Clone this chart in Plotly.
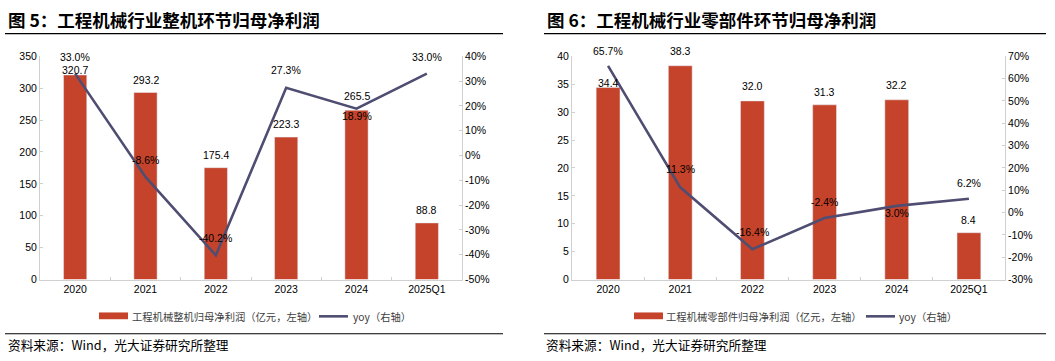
import plotly.graph_objects as go

# ---------------- data ----------------
categories = ["2020", "2021", "2022", "2023", "2024", "2025Q1"]

profit_machine = [320.7, 293.2, 175.4, 223.3, 265.5, 88.8]      # 亿元
yoy_machine = [33.0, -8.6, -40.2, 27.3, 18.9, 33.0]              # %

profit_parts = [34.4, 38.3, 32.0, 31.3, 32.2, 8.4]               # 亿元
yoy_parts = [65.7, 11.3, -16.4, -2.4, 3.0, 6.2]                   # %

left_ticks = [0, 50, 100, 150, 200, 250, 300, 350]
left_yoy_ticks = [-50, -40, -30, -20, -10, 0, 10, 20, 30, 40]
right_ticks = [0, 5, 10, 15, 20, 25, 30, 35, 40]
right_yoy_ticks = [-30, -20, -10, 0, 10, 20, 30, 40, 50, 60, 70]

title_left = "图 5：工程机械行业整机环节归母净利润"
title_right = "图 6：工程机械行业零部件环节归母净利润"
legend_bar_left = "工程机械整机归母净利润（亿元，左轴）"
legend_bar_right = "工程机械零部件归母净利润（亿元，左轴）"
legend_line = "yoy（右轴）"
source_text = "资料来源：Wind，光大证券研究所整理"

# ---------------- style ----------------
W, H = 1055, 361
BAR = "#C5432A"
LINE = "#4F4E72"
AXIS = "#D0D0D0"
NUM_FONT = "Liberation Sans, Arial, Noto Sans CJK SC"
CJK_FONT = "Noto Sans CJK SC, Liberation Sans"
TICK_SIZE = 10.5

bar_shift_left = [5, 13, 13, 13, 14, 13]
yoy_shift_left = [17, 17, 17, 18, -7, 17]
bar_shift_right = [5, 15, 15, 13, 15, 13]
yoy_shift_right = [15, 18, 17, 16, -7, 16]

def px(x):
    return x / W

def py(y):
    return 1 - y / H

ydom = [py(283), py(52)]
xrange_ = [-0.5, len(categories) - 0.5]

fig = go.Figure()

fig.add_trace(go.Bar(x=categories, y=profit_machine, marker_color=BAR, width=0.33,
                     xaxis="x", yaxis="y", name=legend_bar_left, showlegend=False))
fig.add_trace(go.Scatter(x=categories, y=yoy_machine, mode="lines",
                         line=dict(color=LINE, width=2.6), xaxis="x", yaxis="y2",
                         name="yoy", showlegend=False))
fig.add_trace(go.Bar(x=categories, y=profit_parts, marker_color=BAR, width=0.33,
                     xaxis="x2", yaxis="y3", name=legend_bar_right, showlegend=False))
fig.add_trace(go.Scatter(x=categories, y=yoy_parts, mode="lines",
                         line=dict(color=LINE, width=2.6), xaxis="x2", yaxis="y4",
                         name="yoy", showlegend=False))

tickfont = dict(family=NUM_FONT, size=TICK_SIZE, color="#000000")
common_y = dict(showgrid=False, zeroline=False, showline=True, linecolor=AXIS, linewidth=1,
                ticks="inside", ticklen=3, tickcolor=AXIS, tickfont=tickfont, fixedrange=True)
common_x = dict(showgrid=False, zeroline=False, showline=True, linecolor=AXIS, linewidth=1,
                ticks="inside", ticklen=3, tickcolor=AXIS, tickson="boundaries",
                tickfont=tickfont, type="category", range=xrange_, fixedrange=True,
                categoryorder="array", categoryarray=categories)

fig.update_layout(
    width=W, height=H,
    margin=dict(l=0, r=0, t=0, b=0),
    paper_bgcolor="white", plot_bgcolor="white",
    xaxis=dict(domain=[px(40), px(462)], anchor="y", **common_x),
    yaxis=dict(domain=ydom, range=[0, 350], tickvals=left_ticks, anchor="x", side="left", **common_y),
    yaxis2=dict(range=[-50, 40], tickvals=left_yoy_ticks, ticktext=[f"{v}%" for v in left_yoy_ticks],
                overlaying="y", anchor="x", side="right", **common_y),
    xaxis2=dict(domain=[px(572), px(1005)], anchor="y3", **common_x),
    yaxis3=dict(domain=ydom, range=[0, 40], tickvals=right_ticks, anchor="x2", side="left", **common_y),
    yaxis4=dict(range=[-30, 70], tickvals=right_yoy_ticks, ticktext=[f"{v}%" for v in right_yoy_ticks],
                overlaying="y3", anchor="x2", side="right", **common_y),
)

annotations = []
label_font = dict(family=NUM_FONT, size=TICK_SIZE, color="#000000")

def add_labels(xref, yref_bar, yref_line, bars, yoys, bshift, lshift):
    for i in range(len(categories)):
        annotations.append(dict(x=i, y=bars[i], xref=xref, yref=yref_bar, text=f"{bars[i]:.1f}",
                                showarrow=False, yshift=bshift[i], font=label_font,
                                xanchor="center", yanchor="middle"))
        annotations.append(dict(x=i, y=yoys[i], xref=xref, yref=yref_line, text=f"{yoys[i]:.1f}%",
                                showarrow=False, yshift=lshift[i], font=label_font,
                                xanchor="center", yanchor="middle"))

add_labels("x", "y", "y2", profit_machine, yoy_machine, bar_shift_left, yoy_shift_left)
add_labels("x2", "y3", "y4", profit_parts, yoy_parts, bar_shift_right, yoy_shift_right)

shapes = []

def panel_frame(x0, x1, title_x, title, bar_legend, rect_x0, text_x0, line_x0, line_text_x0, src_x):
    annotations.append(dict(x=px(title_x), y=py(14), xref="paper", yref="paper", text=f"<b>{title}</b>",
                            showarrow=False, xanchor="left", yanchor="middle",
                            font=dict(family=CJK_FONT, size=17.5, color="#000000")))
    shapes.append(dict(type="line", xref="paper", yref="paper", x0=px(x0), x1=px(x1),
                       y0=py(28.5), y1=py(28.5), line=dict(color="#000000", width=1.2)))
    shapes.append(dict(type="line", xref="paper", yref="paper", x0=px(x0), x1=px(x1),
                       y0=py(339), y1=py(339), line=dict(color="#000000", width=1.2)))
    shapes.append(dict(type="rect", xref="paper", yref="paper", x0=px(rect_x0), x1=px(rect_x0 + 29),
                       y0=py(324), y1=py(317), fillcolor=BAR, line=dict(width=0)))
    annotations.append(dict(x=px(text_x0), y=py(321), xref="paper", yref="paper", text=bar_legend,
                            showarrow=False, xanchor="left", yanchor="middle",
                            font=dict(family=CJK_FONT, size=10.3, color="#404040")))
    shapes.append(dict(type="line", xref="paper", yref="paper", x0=px(line_x0), x1=px(line_x0 + 29),
                       y0=py(321), y1=py(321), line=dict(color=LINE, width=2.6)))
    annotations.append(dict(x=px(line_text_x0), y=py(321), xref="paper", yref="paper", text=legend_line,
                            showarrow=False, xanchor="left", yanchor="middle",
                            font=dict(family=CJK_FONT, size=10.3, color="#404040")))
    annotations.append(dict(x=px(src_x), y=py(350), xref="paper", yref="paper", text=source_text,
                            showarrow=False, xanchor="left", yanchor="middle",
                            font=dict(family=CJK_FONT, size=12.7, color="#000000")))

panel_frame(5, 503, 6, title_left, legend_bar_left, 99, 130, 319, 351, 6)
panel_frame(544, 1046, 545, title_right, legend_bar_right, 634, 664, 866, 897, 544)

fig.update_layout(annotations=annotations, shapes=shapes)

# remove the browser's default page margin so the figure sits at the window's top-left corner
fig.write_html("out.html",
               config={"displayModeBar": False},
               post_script="document.body.style.margin='0';document.body.style.overflow='hidden';")
